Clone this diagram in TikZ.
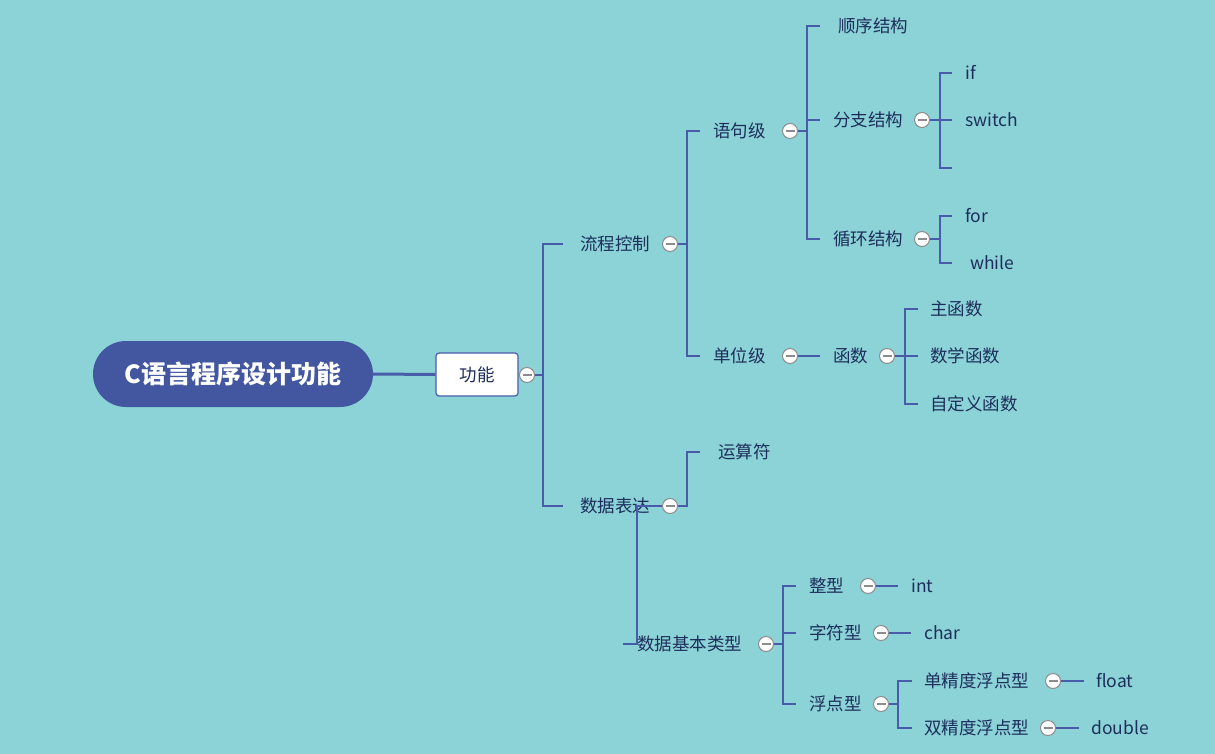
\documentclass[tikz,border=0pt]{standalone}
\usepackage{fontspec}
\setmainfont{Noto Sans CJK SC}
\definecolor{bg}{RGB}{139,211,214}
\definecolor{rootc}{RGB}{66,87,160}
\definecolor{linec}{RGB}{72,92,170}
\definecolor{txtc}{RGB}{30,46,92}
\definecolor{tgc}{RGB}{140,140,140}
\tikzset{
  lbl/.style={anchor=west,inner sep=0pt,text=txtc,font=\fontsize{17.5}{19}\selectfont,text height=13pt,text depth=0pt},
  tg/.style={circle,draw=tgc,fill=white,line width=1pt,minimum size=15pt,inner sep=0pt,
     path picture={\draw[tgc,line width=1.3pt] ([xshift=-4.5pt]path picture bounding box.center) -- ([xshift=4.5pt]path picture bounding box.center);}},
  conn/.style={draw=linec,line width=1.2pt},
}
\begin{document}
\begin{tikzpicture}[x=1pt,y=-1pt]
\fill[bg] (0,0) rectangle (1215,754);
\useasboundingbox (0,0) rectangle (1215,754);
% root
\node[fill=rootc,rounded corners=33pt,minimum width=280pt,minimum height=66pt,inner sep=0pt,text=white,font=\fontsize{25}{27}\selectfont\bfseries,text height=19pt,text depth=0pt] (root) at (233,374) {C语言程序设计功能};
\node[draw=linec,line width=1.2pt,fill=white,rounded corners=3pt,minimum width=82pt,minimum height=43pt,inner sep=0pt,text=txtc,font=\fontsize{17.5}{19}\selectfont,text height=13pt,text depth=0pt] (gn) at (477,374.5) {功能};
\draw[linec,line width=3pt] (root.east) -- (gn.west);
\node[tg] (t0) at (527,375) {};
% level 1
\node[lbl] (lckz) at (580,244) {流程控制};
\node[tg] (t1) at (670,244) {};
\node[lbl] (sjbd) at (580,506) {数据表达};
\node[tg] (t2) at (670,506) {};
\coordinate (b0) at (543,0);
\draw[conn] (t0.east) -- (b0 |- t0.east) |- ([xshift=-17pt]lckz.west);
\draw[conn] (b0 |- t0.east) |- ([xshift=-17pt]sjbd.west);
% 流程控制 children
\node[lbl] (yjj) at (713,131) {语句级};
\node[tg] (t3) at (790,131) {};
\node[lbl] (dwj) at (713,356) {单位级};
\node[tg] (t4) at (790,356) {};
\coordinate (b1) at (687,0);
\draw[conn] (t1.east) -- (b1 |- t1.east) |- ([xshift=-13pt]yjj.west);
\draw[conn] (b1 |- t1.east) |- ([xshift=-13pt]dwj.west);
% 语句级 children
\node[lbl] (sxjg) at (838,26) {顺序结构};
\node[lbl] (fzjg) at (833,120) {分支结构};
\node[tg] (t5) at (922,120) {};
\node[lbl] (xhjg) at (833,239) {循环结构};
\node[tg] (t6) at (922,239) {};
\coordinate (b2) at (807,0);
\draw[conn] (t3.east) -- (b2 |- t3.east) |- ([xshift=-18pt]sxjg.west);
\draw[conn] (b2 |- t3.east) |- ([xshift=-13pt]fzjg.west);
\draw[conn] (b2 |- t3.east) |- ([xshift=-13pt]xhjg.west);
% 分支结构 children
\node[lbl] (if) at (965,73) {if};
\node[lbl] (sw) at (965,120) {switch};
\coordinate (emp) at (952,168);
\coordinate (b3) at (940,0);
\draw[conn] (t5.east) -- (b3 |- t5.east) |- ([xshift=-13pt]if.west);
\draw[conn] (b3 |- t5.east) -- ([xshift=-13pt]sw.west);
\draw[conn] (b3 |- t5.east) |- (emp);
% 循环结构 children
\node[lbl] (for) at (965,216) {for};
\node[lbl] (wh) at (970,263) {while};
\draw[conn] (t6.east) -- (b3 |- t6.east) |- ([xshift=-13pt]for.west);
\draw[conn] (b3 |- t6.east) |- ([xshift=-18pt]wh.west);
% 单位级 children
\node[lbl] (hs) at (833,356) {函数};
\node[tg] (t7) at (887,356) {};
\draw[conn] (t4.east) -- ([xshift=-13pt]hs.west);
\node[lbl] (zhs) at (930,309) {主函数};
\node[lbl] (sxhs) at (930,356) {数学函数};
\node[lbl] (zdy) at (930,404) {自定义函数};
\coordinate (b4) at (905,0);
\draw[conn] (t7.east) -- (b4 |- t7.east) |- ([xshift=-12pt]zhs.west);
\draw[conn] (b4 |- t7.east) -- ([xshift=-12pt]sxhs.west);
\draw[conn] (b4 |- t7.east) |- ([xshift=-12pt]zdy.west);
% 数据表达 children
\node[lbl] (ysf) at (718,452) {运算符};
\coordinate (b5) at (687,0);
\draw[conn] (t2.east) -- (b5 |- t2.east) |- ([xshift=-18pt]ysf.west);
\node[lbl] (jblx) at (637,644) {数据基本类型};
\node[tg] (t8) at (766,644) {};
\coordinate (b6) at (637,0);
\draw[conn] (t2.west) -- (b6 |- t2.west) |- ([xshift=-14pt]jblx.west);
% 数据基本类型 children
\node[lbl] (zx) at (809,586) {整型};
\node[tg] (t9) at (868,586) {};
\node[lbl] (zfx) at (809,633) {字符型};
\node[tg] (t10) at (881,633) {};
\node[lbl] (fdx) at (809,704) {浮点型};
\node[tg] (t11) at (881,704) {};
\coordinate (b7) at (783,0);
\draw[conn] (t8.east) -- (b7 |- t8.east) |- ([xshift=-13pt]zx.west);
\draw[conn] (b7 |- t8.east) |- ([xshift=-13pt]zfx.west);
\draw[conn] (b7 |- t8.east) |- ([xshift=-13pt]fdx.west);
\node[lbl] (int) at (911,586) {int};
\draw[conn] (t9.east) -- ([xshift=-13pt]int.west);
\node[lbl] (char) at (924,633) {char};
\draw[conn] (t10.east) -- ([xshift=-13pt]char.west);
% 浮点型 children
\node[lbl] (dan) at (924,681) {单精度浮点型};
\node[tg] (t12) at (1053,681) {};
\node[lbl] (shuang) at (924,728) {双精度浮点型};
\node[tg] (t13) at (1048,728) {};
\coordinate (b8) at (898,0);
\draw[conn] (t11.east) -- (b8 |- t11.east) |- ([xshift=-12pt]dan.west);
\draw[conn] (b8 |- t11.east) |- ([xshift=-12pt]shuang.west);
\node[lbl] (flt) at (1096,681) {float};
\draw[conn] (t12.east) -- ([xshift=-12pt]flt.west);
\node[lbl] (dbl) at (1091,728) {double};
\draw[conn] (t13.east) -- ([xshift=-12pt]dbl.west);
\end{tikzpicture}
\end{document}
